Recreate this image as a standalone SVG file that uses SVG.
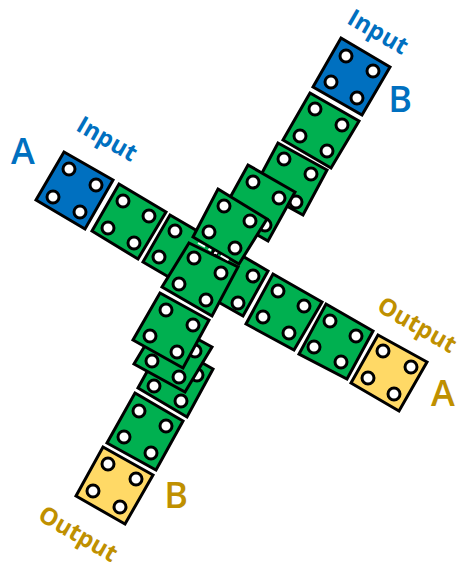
<svg xmlns="http://www.w3.org/2000/svg" width="460" height="568" viewBox="0 0 460 568">
  <style>
    .die { stroke: #000; stroke-width: 3; stroke-linejoin: miter; }
    .green { fill: #00B050; }
    .blue { fill: #0070C0; }
    .yellow { fill: #FFD966; }
    .pip { fill: #fff; stroke: #000; stroke-width: 3; }
    text { font-family: "Open Sans", "Liberation Sans", sans-serif; font-weight: 700; text-anchor: middle; }
    .in { fill: #0070C0; }
    .out { fill: #BF9000; }
    .word { font-size: 24px; }
    .letter { font-size: 36px; font-weight: 600; }
  </style>
  <rect width="460" height="568" fill="#fff"/>

  <!-- horizontal arm, input A to output A -->
  <g id="a-input">
    <polygon class="die blue" points="64,152 113,180 85,229 36,200"/>
    <circle class="pip" cx="69" cy="169" r="6"/><circle class="pip" cx="96" cy="185" r="6"/><circle class="pip" cx="53" cy="197" r="6"/><circle class="pip" cx="80" cy="212" r="6"/>
  </g>
  <g id="a-cell-1">
    <polygon class="die green" points="119,184 166,212 138,259 92,231"/>
    <circle class="pip" cx="123" cy="201" r="6"/><circle class="pip" cx="149" cy="216" r="6"/><circle class="pip" cx="108" cy="228" r="6"/><circle class="pip" cx="134" cy="243" r="6"/>
  </g>
  <g id="a-cell-2">
    <polygon class="die green" points="170,215 218,243 191,290 143,262"/>
    <circle class="pip" cx="175" cy="231" r="6"/><circle class="pip" cx="159" cy="257" r="6"/>
  </g>
  <g id="a-cell-3">
    <polygon class="die green" points="222,244 268,271 243,316 197,290"/>
    <circle class="pip" cx="253" cy="276" r="6"/><circle class="pip" cx="238" cy="303" r="6"/>
  </g>
  <g id="a-cell-4">
    <polygon class="die green" points="273,274 322,302 294,350 246,324"/>
    <circle class="pip" cx="278" cy="291" r="6"/><circle class="pip" cx="304" cy="306" r="6"/><circle class="pip" cx="263" cy="317" r="6"/><circle class="pip" cx="289" cy="333" r="6"/>
  </g>
  <g id="a-cell-5">
    <polygon class="die green" points="326,304 373,331 347,379 299,354"/>
    <circle class="pip" cx="330" cy="321" r="6"/><circle class="pip" cx="356" cy="336" r="6"/><circle class="pip" cx="314" cy="347" r="6"/><circle class="pip" cx="341" cy="362" r="6"/>
  </g>
  <g id="a-output">
    <polygon class="die yellow" points="378,335 427,362 399,411 351,383"/>
    <circle class="pip" cx="383" cy="351" r="6"/><circle class="pip" cx="411" cy="367" r="6"/><circle class="pip" cx="368" cy="378" r="6"/><circle class="pip" cx="394" cy="394" r="6"/>
  </g>

  <!-- vertical arm, input B to output B -->
  <g id="b-input">
    <polygon class="die blue" points="341,38 390,67 362,115 313,87"/>
    <circle class="pip" cx="346" cy="56" r="6"/><circle class="pip" cx="373" cy="71" r="6"/><circle class="pip" cx="331" cy="82" r="6"/><circle class="pip" cx="357" cy="98" r="6"/>
  </g>
  <g id="b-cell-2">
    <polygon class="die green" points="278,143 327,170 303,215 254,188"/>
    <circle class="pip" cx="284" cy="159" r="6"/><circle class="pip" cx="311" cy="174" r="6"/><circle class="pip" cx="296" cy="202" r="6"/>
  </g>
  <g id="b-cell-1">
    <polygon class="die green" points="310,93 359,121 331,168 283,140"/>
    <circle class="pip" cx="315" cy="109" r="6"/><circle class="pip" cx="342" cy="125" r="6"/><circle class="pip" cx="300" cy="136" r="6"/><circle class="pip" cx="327" cy="151" r="6"/>
  </g>
  <g id="b-cell-3">
    <polygon class="die green" points="248,165 295,192 268,241 221,214"/>
    <circle class="pip" cx="253" cy="182" r="6"/><circle class="pip" cx="279" cy="198" r="6"/><circle class="pip" cx="265" cy="225" r="6"/>
  </g>
  <g id="b-cell-4">
    <polygon class="die green" points="218,189 267,219 239,264 193,237"/>
    <circle class="pip" cx="224" cy="206" r="6"/><circle class="pip" cx="250" cy="221" r="6"/><circle class="pip" cx="209" cy="232" r="6"/><circle class="pip" cx="235" cy="248" r="6"/>
  </g>
  <g id="b-cell-5">
    <polygon class="die green" points="189,243 238,267 212,316 162,287"/>
    <circle class="pip" cx="194" cy="258" r="6"/><circle class="pip" cx="221" cy="273" r="6"/><circle class="pip" cx="179" cy="284" r="6"/><circle class="pip" cx="206" cy="300" r="6"/>
  </g>
  <g id="b-cell-8">
    <polygon class="die green" points="164,341 213,369 187,417 138,388"/>
    <circle class="pip" cx="154" cy="386" r="6"/><circle class="pip" cx="181" cy="401" r="6"/><circle class="pip" cx="197" cy="375" r="6"/>
  </g>
  <g id="b-cell-7">
    <polygon class="die green" points="161,319 212,347 185,392 134,364"/>
    <circle class="pip" cx="152" cy="361" r="6"/><circle class="pip" cx="179" cy="377" r="6"/><circle class="pip" cx="195" cy="351" r="6"/>
  </g>
  <g id="b-cell-6">
    <polygon class="die green" points="160,293 209,320 183,368 133,340"/>
    <circle class="pip" cx="166" cy="310" r="6"/><circle class="pip" cx="193" cy="325" r="6"/><circle class="pip" cx="150" cy="336" r="6"/><circle class="pip" cx="177" cy="352" r="6"/>
  </g>
  <g id="b-cell-9">
    <polygon class="die green" points="135,393 183,421 156,470 107,443"/>
    <circle class="pip" cx="139" cy="411" r="6"/><circle class="pip" cx="166" cy="426" r="6"/><circle class="pip" cx="124" cy="437" r="6"/><circle class="pip" cx="151" cy="453" r="6"/>
  </g>
  <g id="b-output">
    <polygon class="die yellow" points="103,447 153,475 125,524 76,496"/>
    <circle class="pip" cx="108" cy="464" r="6"/><circle class="pip" cx="136" cy="479" r="6"/><circle class="pip" cx="93" cy="491" r="6"/><circle class="pip" cx="120" cy="507" r="6"/>
  </g>

  <!-- broken white seam where the two centre cells meet -->
  <g id="connectors">
    <path d="M198,243 L232,262" fill="none" stroke="#fff" stroke-width="2" stroke-dasharray="8 4 3 4 3 4 9"/>
  </g>

  <!-- labels -->
  <text class="in letter" x="23" y="164">A</text>
  <text class="in letter" x="400" y="112">B</text>
  <text class="out letter" x="443" y="406">A</text>
  <text class="out letter" x="176" y="508">B</text>
  <text class="in word" transform="translate(103,146) rotate(30)">Input</text>
  <text class="in word" transform="translate(374,39) rotate(30)">Input</text>
  <text class="out word" transform="translate(413,332) rotate(30)">Output</text>
  <text class="out word" transform="translate(74,541) rotate(30)">Output</text>
</svg>
